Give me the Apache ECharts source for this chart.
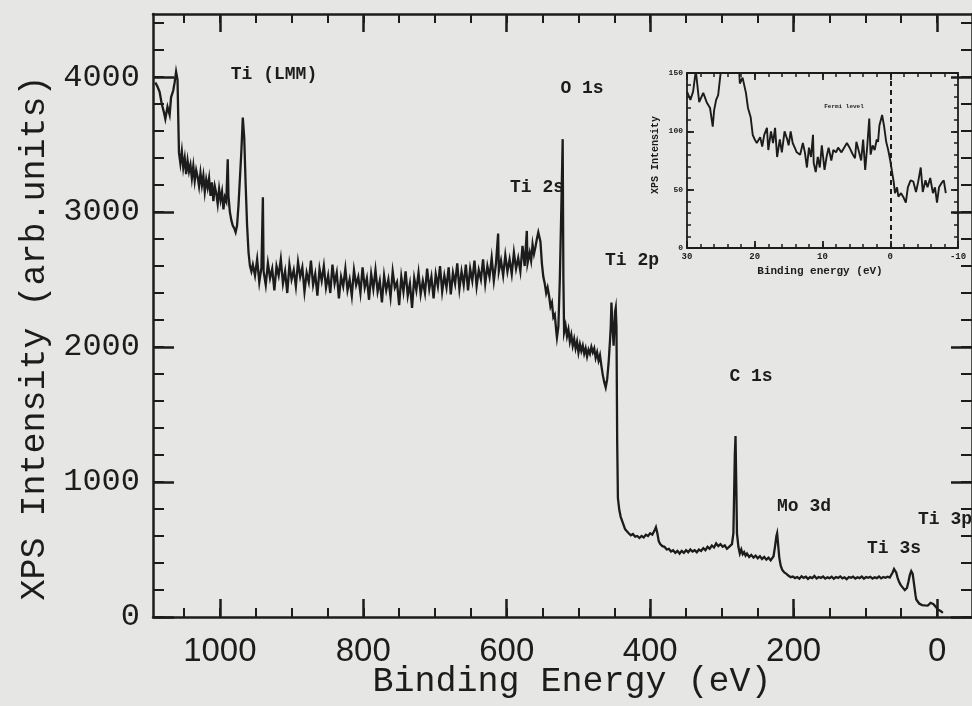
<!DOCTYPE html>
<html>
<head>
<meta charset="utf-8">
<script src="https://cdn.jsdelivr.net/npm/echarts@6/dist/echarts.min.js"></script>
<style>
  html, body { margin: 0; padding: 0; background: #e6e6e4; }
  #chart { width: 972px; height: 706px; }
</style>
</head>
<body>
<div id="chart"></div>
<script>
// XPS survey spectrum: [binding energy (eV), intensity (arb. units)]
const surveyPoints = [
  [1090,3960],[1087,3930],[1084,3890],[1081,3800],[1078,3740],[1076,3690],[1073,3780],[1070,3720],
  [1068,3850],[1065,3900],[1063,3960],[1061,4040],[1059,3980],[1058,3700],[1057,3440],
  [1055,3360],[1053,3450],[1051,3330],[1049,3400],[1047,3280],[1045,3380],[1043,3300],[1041,3350],
  [1039,3250],[1037,3340],[1035,3230],[1033,3310],[1031,3260],[1029,3190],[1027,3290],[1025,3200],
  [1023,3270],[1021,3150],[1019,3240],[1017,3180],[1015,3250],[1013,3120],[1011,3220],[1009,3080],
  [1007,3190],[1005,3140],[1003,3060],[1001,3170],[999,3090],[997,3150],[995,3020],[993,3110],[991,3080],
  [989,3390],[988,3120],[986,3000],[984,2940],[982,2900],[980,2880],[978,2850],[976,2900],[974,3050],
  [972,3250],[970,3450],[968,3700],[966,3550],[964,3200],[962,2900],[960,2700],[958,2600],[956,2560],
  [954,2610],[951,2530],[948,2650],[945,2480],[942,2590],[940,3110],[939,2560],[936,2460],[933,2620],
  [930,2510],[927,2580],[924,2420],[921,2600],[918,2530],[915,2650],[912,2470],[909,2560],[906,2400],
  [903,2610],[900,2500],[897,2570],[894,2450],[891,2630],[888,2520],[885,2590],[882,2410],[879,2550],
  [876,2480],[873,2640],[870,2460],[867,2540],[864,2380],[861,2580],[858,2490],[855,2600],[852,2440],
  [849,2530],[846,2400],[843,2610],[840,2470],[837,2550],[834,2360],[831,2520],[828,2450],[825,2580],
  [822,2420],[819,2500],[816,2380],[813,2570],[810,2460],[807,2520],[804,2400],[801,2590],[798,2440],
  [795,2510],[792,2350],[789,2540],[786,2430],[783,2570],[780,2410],[777,2490],[774,2330],[771,2530],
  [768,2420],[765,2500],[762,2370],[759,2560],[756,2440],[753,2480],[750,2310],[747,2520],[744,2410],
  [741,2560],[738,2380],[735,2470],[732,2290],[729,2510],[726,2420],[723,2550],[720,2390],[717,2490],
  [714,2400],[711,2580],[708,2430],[705,2520],[702,2360],[699,2540],[696,2450],[693,2600],[690,2410],
  [687,2530],[684,2440],[681,2590],[678,2390],[675,2550],[672,2470],[669,2620],[666,2430],[663,2560],
  [660,2460],[657,2610],[654,2420],[651,2580],[648,2490],[645,2640],[642,2450],[639,2570],[636,2500],
  [633,2650],[630,2470],[627,2600],[624,2520],[621,2660],[618,2490],[615,2620],[612,2840],[611,2560],
  [608,2640],[605,2530],[602,2680],[599,2560],[596,2650],[593,2540],[590,2700],[587,2580],[584,2660],
  [581,2560],[578,2750],[575,2600],[572,2860],[571,2620],[568,2700],[566,2640],[564,2760],[562,2690],
  [560,2740],[558,2800],[556,2850],[555,2860],[553,2780],[551,2620],[549,2520],[547,2470],[545,2400],
  [543,2440],[541,2380],[539,2300],[537,2330],[535,2220],[533,2240],[531,2120],[530,2070],[528,2150],
  [526,2500],[524,3000],[522,3540],[521,2500],[520,2110],[518,2160],[516,2080],[514,2130],[512,2040],
  [510,2090],[508,2010],[506,2060],[504,1990],[502,2040],[500,1960],[498,2020],[496,1970],[494,2010],
  [492,1950],[490,1990],[488,1930],[486,1980],[484,1950],[482,2000],[480,1960],[478,1990],[476,1920],
  [474,1960],[472,1900],[470,1940],[468,1860],[466,1790],[464,1740],[462,1700],[460,1760],[458,1880],
  [456,2050],[455,2150],[454,2330],[453,2200],[451,2010],[450,2120],[449,2260],[448,2290],[447,2150],
  [446,1300],[445,880],[443,790],[441,740],[439,710],[437,680],[435,650],[433,640],[430,620],[427,605],
  [424,615],[421,595],[418,600],[415,585],[412,600],[409,590],[406,610],[403,600],[400,620],[397,610],
  [394,640],[392,665],[390,620],[388,560],[386,540],[383,525],[380,520],[377,500],[374,505],[371,485],
  [368,495],[365,475],[362,490],[359,470],[356,490],[353,475],[350,495],[347,480],[344,500],[341,485],
  [338,495],[335,480],[332,500],[329,490],[326,510],[323,495],[320,520],[317,505],[314,530],[311,515],
  [308,545],[305,525],[302,540],[299,520],[296,530],[293,505],[290,520],[288,510],[286,540],[284,620],
  [283,900],[282,1200],[281,1340],[280,1000],[279,620],[277,520],[275,470],[273,500],[271,465],[269,480],
  [267,455],[265,470],[262,445],[259,460],[256,440],[253,455],[250,435],[247,450],[244,430],[241,445],
  [238,425],[235,440],[232,420],[230,430],[228,450],[226,520],[224,600],[223,620],[222,560],[220,440],
  [218,380],[216,350],[213,330],[210,320],[207,305],[204,295],[201,300],[198,288],[195,296],[192,284],
  [189,302],[186,290],[183,298],[180,282],[177,295],[174,288],[171,304],[168,286],[165,296],[162,290],
  [159,300],[156,284],[153,294],[150,288],[147,298],[144,283],[141,296],[138,290],[135,300],[132,286],
  [129,294],[126,280],[123,296],[120,290],[117,299],[114,285],[111,295],[108,288],[105,300],[102,284],
  [99,296],[96,290],[93,298],[90,285],[87,294],[84,288],[81,300],[78,286],[75,296],[72,290],[69,298],
  [66,292],[64,305],[62,330],[60,355],[59,365],[57,330],[55,290],[53,260],[51,240],[49,225],[47,215],
  [45,200],[44,190],[42,215],[40,260],[38,310],[36,340],[35,350],[34,320],[32,240],[30,160],[29,130],
  [27,115],[25,100],[23,92],[21,88],[19,95],[17,86],[15,92],[13,85],[11,98],[9,105],[7,110],[5,95],
  [3,85],[1,70],[-1,55],[-3,50],[-5,45],[-7,35],[-8,30]
];

// Valence band region near the Fermi level: [binding energy (eV), intensity]
const valenceBandPoints = [
  [30,134],[29.5,127],[29.1,134],[28.7,152],[28.2,125],[27.6,133],[27.1,125],[26.6,120],[26.2,104],
  [26.0,118],[25.7,127],[25.4,131],[25.0,152],[24.5,165],[23.8,170],[23.0,162],[22.3,152],[22.2,141],
  [21.8,146],[21.3,133],[21.0,120],[20.6,112],[20.3,97],[20.0,93],[19.7,90],[19.2,95],[18.9,87],
  [18.6,97],[18.2,103],[18.0,84],[17.6,100],[17.3,90],[17.0,103],[16.7,78],[16.3,93],[16.0,82],
  [15.6,100],[15.2,93],[15.0,88],[14.7,100],[14.4,90],[14.1,86],[13.8,82],[13.3,80],[12.9,90],
  [12.6,82],[12.3,69],[12.0,86],[11.7,78],[11.4,97],[11.3,73],[11.0,65],[10.7,78],[10.4,69],
  [10.1,88],[9.7,67],[9.4,78],[9.1,86],[8.7,75],[8.4,84],[8.0,82],[7.7,86],[7.2,82],[6.7,87],
  [6.4,90],[6.0,86],[5.6,81],[5.2,77],[5.0,91],[4.6,82],[4.3,75],[4.0,93],[3.7,67],[3.4,87],
  [3.1,111],[2.9,80],[2.6,88],[2.3,84],[2.0,93],[1.8,91],[1.6,105],[1.2,114],[0.9,104],[0.6,91],
  [0.3,84],[0,75],[-0.3,64],[-0.5,57],[-0.7,47],[-1.0,52],[-1.2,44],[-1.6,47],[-1.9,44],[-2.3,39],
  [-2.6,52],[-3.0,58],[-3.4,57],[-3.8,48],[-4.1,56],[-4.5,69],[-4.8,48],[-5.2,58],[-5.5,52],
  [-5.9,60],[-6.3,47],[-6.6,52],[-6.9,39],[-7.2,52],[-7.6,56],[-7.9,58],[-8.2,47]
];

// Axis ticks
const surveyEnergyLabels = [0, 200, 400, 600, 800, 1000];
const surveyIntensityLabels = [0, 1000, 2000, 3000, 4000];
const insetEnergyLabels = [-10, 0, 10, 20, 30];
const insetIntensityLabels = [0, 50, 100, 150];
const fermiLevel = 0;

function steps(from, to, step) {
  const out = [];
  for (let v = from; v <= to + 1e-9; v += step) out.push(Math.round(v * 100) / 100);
  return out;
}
const surveyEnergyMinor = steps(0, 1050, 50);
const surveyIntensityMinor = steps(0, 4400, 200);
const insetEnergyMinor = steps(-10, 30, 2);
const insetIntensityMinor = steps(0, 150, 10);

const INK = '#1c1c1c';
const MONO = '"Liberation Mono", "DejaVu Sans Mono", monospace';
const SANS = '"Liberation Sans", Arial, sans-serif';
const plain = (v) => String(v);

const SURVEY_E = [-48.7, 1093.2];
const SURVEY_I = [0, 4467];

function xAxisDef(grid, range, pos, ticks, len, width, label, showLine) {
  return {
    type: 'value', gridIndex: grid, min: range[0], max: range[1], inverse: true,
    position: pos, offset: 0,
    axisLine: { show: showLine, onZero: false, lineStyle: { color: INK, width: width } },
    axisTick: { show: true, inside: true, length: len, customValues: ticks,
                lineStyle: { color: INK, width: width } },
    axisLabel: label ? label : { show: false },
    splitLine: { show: false }
  };
}
function yAxisDef(grid, range, pos, ticks, len, width, label, showLine) {
  return {
    type: 'value', gridIndex: grid, min: range[0], max: range[1],
    position: pos, offset: 0,
    axisLine: { show: showLine, onZero: false, lineStyle: { color: INK, width: width } },
    axisTick: { show: true, inside: true, length: len, customValues: ticks,
                lineStyle: { color: INK, width: width } },
    axisLabel: label ? label : { show: false },
    splitLine: { show: false }
  };
}

const chart = echarts.init(document.getElementById('chart'), null, { renderer: 'canvas' });

function textEl(x, y, text, font, rotation) {
  return {
    type: 'text', x: x, y: y, rotation: rotation || 0, silent: true,
    style: { text: text, font: font, fill: INK, align: 'center', verticalAlign: 'middle',
             textAlign: 'center', textVerticalAlign: 'middle' }
  };
}

const option = {
  backgroundColor: '#e6e6e4',
  animation: false,
  grid: [
    { left: 153, top: 14, width: 821, height: 603 },
    { left: 687, top: 73, width: 271, height: 175 }
  ],
  xAxis: [
    xAxisDef(0, SURVEY_E, 'bottom', surveyEnergyLabels, 18, 2.5, {
      show: true, customValues: surveyEnergyLabels, margin: 18, formatter: plain,
      color: INK, fontFamily: SANS, fontSize: 33
    }, true),
    xAxisDef(0, SURVEY_E, 'bottom', surveyEnergyMinor, 9, 2, null, false),
    xAxisDef(0, SURVEY_E, 'top', surveyEnergyLabels, 18, 2.5, null, true),
    xAxisDef(0, SURVEY_E, 'top', surveyEnergyMinor, 9, 2, null, false),
    xAxisDef(1, [-10, 30], 'bottom', insetEnergyLabels, 7, 1.8, {
      show: true, customValues: insetEnergyLabels, margin: 4, formatter: plain,
      color: INK, fontFamily: MONO, fontWeight: 'bold', fontSize: 9
    }, true),
    xAxisDef(1, [-10, 30], 'bottom', insetEnergyMinor, 4, 1.5, null, false),
    xAxisDef(1, [-10, 30], 'top', insetEnergyLabels, 7, 1.8, null, true),
    xAxisDef(1, [-10, 30], 'top', insetEnergyMinor, 4, 1.5, null, false)
  ],
  yAxis: [
    yAxisDef(0, SURVEY_I, 'left', surveyIntensityLabels, 21, 2.5, {
      show: true, customValues: surveyIntensityLabels, margin: 13, formatter: plain,
      color: INK, fontFamily: MONO, fontSize: 32
    }, true),
    yAxisDef(0, SURVEY_I, 'left', surveyIntensityMinor, 11, 2, null, false),
    yAxisDef(0, SURVEY_I, 'right', surveyIntensityLabels, 21, 2.5, null, true),
    yAxisDef(0, SURVEY_I, 'right', surveyIntensityMinor, 11, 2, null, false),
    yAxisDef(1, [0, 150], 'left', insetIntensityLabels, 7, 1.8, {
      show: true, customValues: insetIntensityLabels, margin: 4, formatter: plain,
      color: INK, fontFamily: MONO, fontWeight: 'bold', fontSize: 8
    }, true),
    yAxisDef(1, [0, 150], 'left', insetIntensityMinor, 4, 1.5, null, false),
    yAxisDef(1, [0, 150], 'right', insetIntensityLabels, 7, 1.8, null, true),
    yAxisDef(1, [0, 150], 'right', insetIntensityMinor, 4, 1.5, null, false)
  ],
  series: [
    {
      name: 'Survey', type: 'line', xAxisIndex: 0, yAxisIndex: 0,
      data: surveyPoints, showSymbol: false, symbol: 'none', silent: true, clip: true,
      lineStyle: { color: INK, width: 2.3, join: 'miter' }
    },
    {
      name: 'Valence band', type: 'line', xAxisIndex: 4, yAxisIndex: 4,
      data: valenceBandPoints, showSymbol: false, symbol: 'none', silent: true, clip: true,
      lineStyle: { color: INK, width: 1.9 },
      markLine: {
        silent: true, symbol: 'none', animation: false,
        label: { show: false },
        lineStyle: { color: INK, width: 2, type: [5, 4] },
        data: [{ xAxis: fermiLevel }]
      }
    }
  ],
  graphic: [
    textEl(572, 682, 'Binding Energy (eV)', '35px ' + MONO),
    textEl(35, 338, 'XPS Intensity (arb.units)', '35px ' + MONO, Math.PI / 2),
    textEl(820, 271, 'Binding energy (eV)', 'bold 11px ' + MONO),
    textEl(655, 155, 'XPS Intensity', 'bold 10px ' + MONO, Math.PI / 2),
    textEl(844, 106, 'Fermi level', 'bold 6px ' + MONO),
    textEl(274, 74, 'Ti (LMM)', 'bold 18px ' + MONO),
    textEl(582, 88, 'O 1s', 'bold 18px ' + MONO),
    textEl(537, 187, 'Ti 2s', 'bold 18px ' + MONO),
    textEl(632, 260, 'Ti 2p', 'bold 18px ' + MONO),
    textEl(751, 376, 'C 1s', 'bold 18px ' + MONO),
    textEl(804, 506, 'Mo 3d', 'bold 18px ' + MONO),
    textEl(945, 519, 'Ti 3p', 'bold 18px ' + MONO),
    textEl(894, 548, 'Ti 3s', 'bold 18px ' + MONO)
  ]
};

chart.setOption(option);
</script>
</body>
</html>
